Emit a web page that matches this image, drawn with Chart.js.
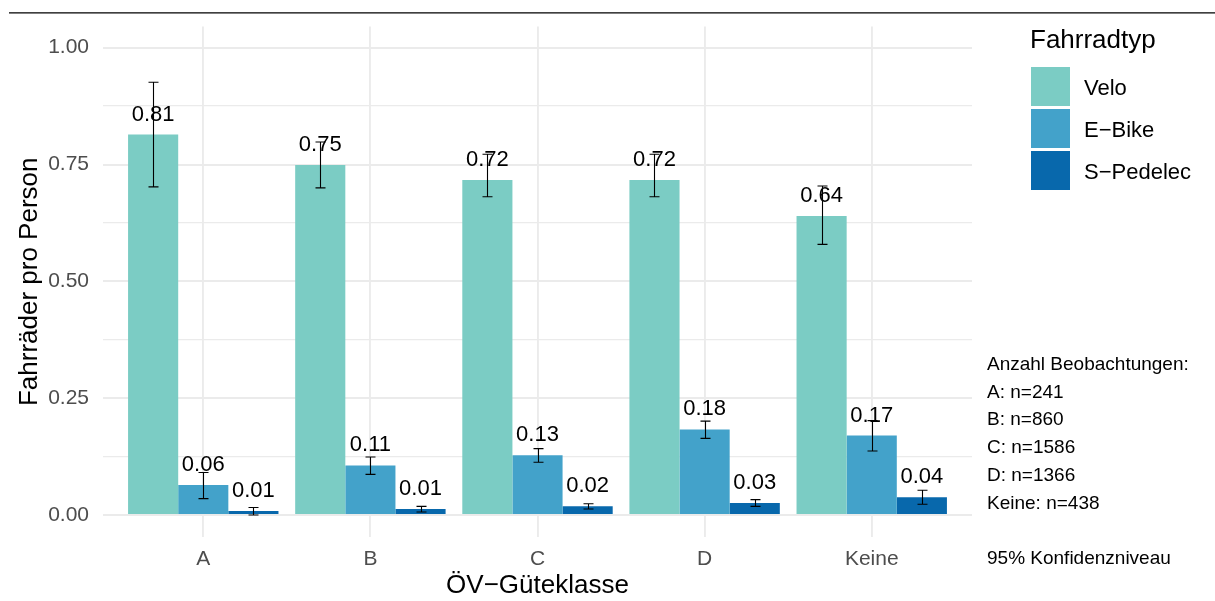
<!DOCTYPE html>
<html><head><meta charset="utf-8">
<script src="https://cdn.jsdelivr.net/npm/chart.js@4/dist/chart.umd.min.js"></script>
<style>html,body{margin:0;padding:0;background:#fff}#wrap{width:1215px;height:601px;position:relative}</style>
</head><body><div id="wrap"><canvas id="c" width="1215" height="601"></canvas></div>
<script>
const categories = ['A', 'B', 'C', 'D', 'Keine'];
const seriesNames = ['Velo', 'E\u2212Bike', 'S\u2212Pedelec'];
const seriesColors = ['#7BCCC4', '#43A2CA', '#0868AC'];
const velo = [0.814, 0.749, 0.717, 0.717, 0.640];
const veloLow = [0.702, 0.700, 0.681, 0.681, 0.579];
const veloHigh = [0.926, 0.798, 0.772, 0.772, 0.704];
const ebike = [0.064, 0.106, 0.128, 0.183, 0.170];
const ebikeLow = [0.035, 0.087, 0.113, 0.164, 0.137];
const ebikeHigh = [0.091, 0.124, 0.142, 0.201, 0.202];
const spedelec = [0.0085, 0.0128, 0.019, 0.0255, 0.038];
const spedelecLow = [0.000, 0.0064, 0.0128, 0.0185, 0.023];
const spedelecHigh = [0.016, 0.0185, 0.024, 0.033, 0.053];
const yTicks = [0, 0.25, 0.5, 0.75, 1.0];
const yMinorTicks = [0.125, 0.375, 0.625, 0.875];
const obsCounts = [241, 860, 1586, 1366, 438];
const legendTitle = 'Fahrradtyp';
const xTitle = '\u00D6V\u2212G\u00FCteklasse';
const yTitle = 'Fahrr\u00E4der pro Person';
const noteTitle = 'Anzahl Beobachtungen:';
const noteFooter = '95% Konfidenzniveau';

const FONT = '"Liberation Sans", Arial, Helvetica, sans-serif';
Chart.defaults.font.family = FONT;

const values = [velo, ebike, spedelec];
const lows = [veloLow, ebikeLow, spedelecLow];
const highs = [veloHigh, ebikeHigh, spedelecHigh];

const datasets = values.map((arr, d) => ({
  label: seriesNames[d],
  data: arr.map((v, i) => ({x: i, y: v})),
  backgroundColor: seriesColors[d],
  borderWidth: 0,
  categoryPercentage: 0.9,
  barPercentage: 1.0
}));

const decor = {
  id: 'decor',
  afterDatasetsDraw(chart) {
    const ctx = chart.ctx;
    const ys = chart.scales.y;
    ctx.save();
    // value labels
    ctx.font = '22px ' + FONT;
    ctx.fillStyle = '#000';
    ctx.textAlign = 'center';
    ctx.textBaseline = 'alphabetic';
    values.forEach((arr, d) => {
      const meta = chart.getDatasetMeta(d);
      arr.forEach((v, i) => {
        const bar = meta.data[i];
        ctx.fillText(v.toFixed(2), bar.x, bar.y - 14);
      });
    });
    // error bars
    ctx.strokeStyle = '#000';
    ctx.lineWidth = 1.1;
    values.forEach((arr, d) => {
      const meta = chart.getDatasetMeta(d);
      arr.forEach((v, i) => {
        const bar = meta.data[i];
        const y1 = ys.getPixelForValue(lows[d][i]);
        const y2 = ys.getPixelForValue(highs[d][i]);
        const x = Math.round(bar.x) + 0.5;
        ctx.beginPath();
        ctx.moveTo(x, y1); ctx.lineTo(x, y2);
        ctx.moveTo(x - 5, y1); ctx.lineTo(x + 5, y1);
        ctx.moveTo(x - 5, y2); ctx.lineTo(x + 5, y2);
        ctx.stroke();
      });
    });
    ctx.restore();
  },
  afterDraw(chart) {
    const ctx = chart.ctx;
    ctx.save();
    // top rule
    ctx.strokeStyle = '#000';
    ctx.lineWidth = 1.3;
    ctx.beginPath(); ctx.moveTo(9, 12.8); ctx.lineTo(1215, 12.8); ctx.stroke();
    // legend
    ctx.fillStyle = '#000';
    ctx.textAlign = 'left';
    ctx.textBaseline = 'alphabetic';
    ctx.font = '26px ' + FONT;
    ctx.fillText(legendTitle, 1030, 48);
    ctx.font = '22px ' + FONT;
    chart.data.datasets.forEach((ds, d) => {
      const top = 67 + d * 42;
      ctx.fillStyle = ds.backgroundColor;
      ctx.fillRect(1031, top, 39, 39);
      ctx.fillStyle = '#000';
      ctx.fillText(ds.label, 1084, top + 19.5 + 8);
    });
    // note
    ctx.font = '19px ' + FONT;
    const lines = [noteTitle].concat(categories.map((c, i) => c + ': n=' + obsCounts[i]));
    lines.forEach((t, i) => ctx.fillText(t, 987, 363 + 27.8 * i + 6.8));
    ctx.fillText(noteFooter, 987, 363 + 27.8 * 7 + 6.8);
    ctx.restore();
  }
};

new Chart(document.getElementById('c'), {
  type: 'bar',
  data: {datasets},
  plugins: [decor],
  options: {
    responsive: false,
    animation: false,
    layout: {padding: {top: 24, right: 243, left: 0, bottom: 0}},
    plugins: {legend: {display: false}, tooltip: {enabled: false}},
    scales: {
      x: {
        type: 'linear', min: -0.6, max: 4.6, offset: false,
        afterBuildTicks: s => { s.ticks = categories.map((c, i) => ({value: i})); },
        afterFit: s => { s.height = 64; },
        ticks: {
          callback: v => categories[v], autoSkip: false, maxRotation: 0,
          font: {size: 21}, color: '#4D4D4D', padding: 10
        },
        grid: {color: '#EBEBEB', lineWidth: 1.9, drawTicks: false, offset: false},
        border: {display: false},
        title: {display: true, text: xTitle, font: {size: 26}, color: '#000', padding: {top: 0, bottom: 0}}
      },
      y: {
        min: -0.047, max: 1.045,
        afterBuildTicks: s => {
          s.ticks = yTicks.concat(yMinorTicks).sort((a, b) => a - b).map(v => ({value: v}));
        },
        afterFit: s => { s.width = 103; },
        ticks: {
          callback: v => (yTicks.includes(v) ? v.toFixed(2) : ''),
          font: {size: 21}, color: '#4D4D4D', padding: 14
        },
        grid: {
          color: '#EBEBEB', drawTicks: false,
          lineWidth: c => (c.tick && yTicks.includes(c.tick.value) ? 1.9 : 1.2)
        },
        border: {display: false},
        title: {display: true, text: yTitle, font: {size: 26}, color: '#000', padding: {top: 14, bottom: 0}}
      }
    }
  }
});
</script>
</body></html>
